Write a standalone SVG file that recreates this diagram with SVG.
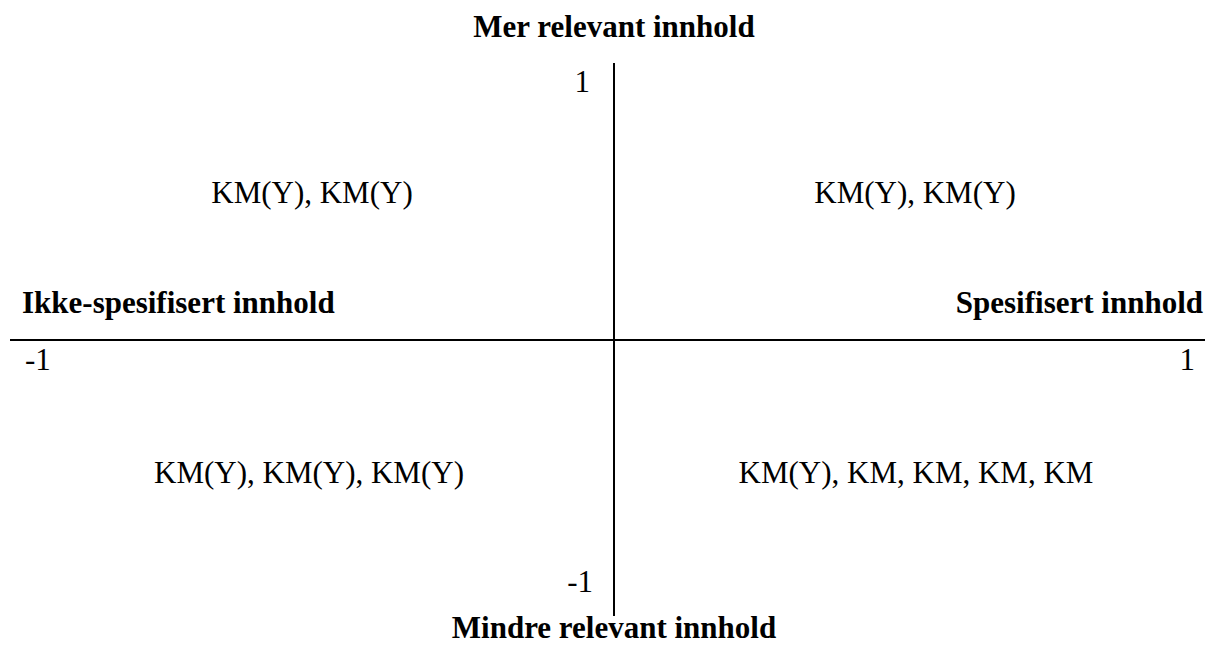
<svg xmlns="http://www.w3.org/2000/svg" width="1208" height="648" viewBox="0 0 1208 648">
  <style>
    .t { font-family: "Liberation Serif", "Times New Roman", serif; font-size: 31px; fill: #000; }
    .b { font-weight: bold; }
    .axis { stroke: #000; stroke-width: 2; fill: none; }
  </style>
  <rect width="1208" height="648" fill="#fff"/>
  <g id="connectors">
    <line class="axis" x1="614" y1="63" x2="614" y2="616"/>
    <line class="axis" x1="10" y1="340" x2="1205" y2="340"/>
  </g>
  <g id="axis-labels">
    <text class="t b" x="614" y="37" text-anchor="middle">Mer relevant innhold</text>
    <text class="t b" x="614" y="638" text-anchor="middle">Mindre relevant innhold</text>
    <text class="t b" x="22" y="313">Ikke-spesifisert innhold</text>
    <text class="t b" x="1203" y="313" text-anchor="end">Spesifisert innhold</text>
    <text class="t" x="590" y="92" text-anchor="end">1</text>
    <text class="t" x="593" y="592" text-anchor="end">-1</text>
    <text class="t" x="25" y="370">-1</text>
    <text class="t" x="1195" y="370" text-anchor="end">1</text>
  </g>
  <g id="q-upper-left">
    <text class="t" x="312" y="203" text-anchor="middle">KM(Y), KM(Y)</text>
  </g>
  <g id="q-upper-right">
    <text class="t" x="915" y="203" text-anchor="middle">KM(Y), KM(Y)</text>
  </g>
  <g id="q-lower-left">
    <text class="t" x="309" y="483" text-anchor="middle">KM(Y), KM(Y), KM(Y)</text>
  </g>
  <g id="q-lower-right">
    <text class="t" x="916" y="483" text-anchor="middle">KM(Y), KM, KM, KM, KM</text>
  </g>
</svg>
